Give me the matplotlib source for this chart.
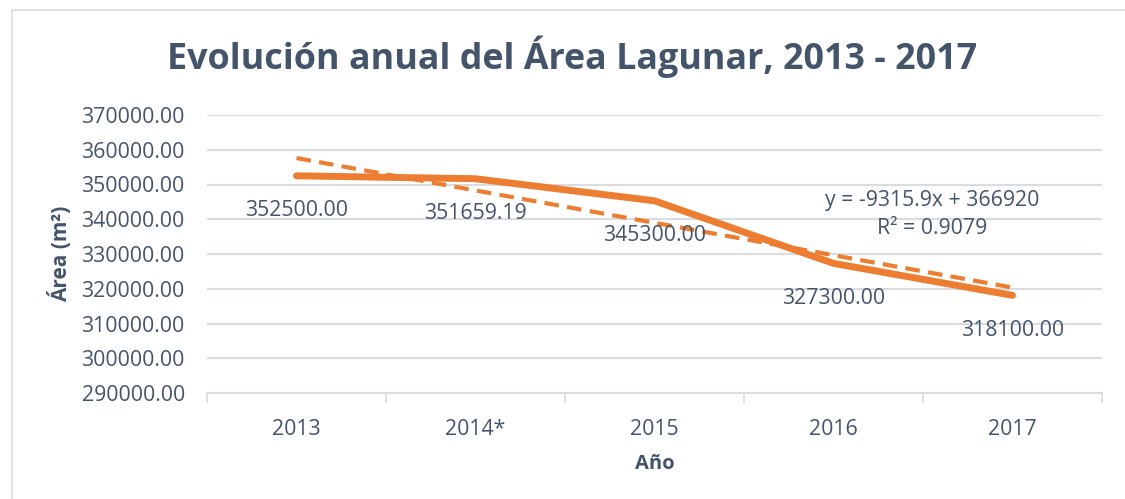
import numpy as np
import matplotlib
matplotlib.use("Agg")
import matplotlib.pyplot as plt
from matplotlib.patches import Rectangle

# data
years = ['2013', '2014*', '2015', '2016', '2017']
area = [352500.00, 351659.19, 345300.00, 327300.00, 318100.00]
slope = -9315.9
intercept = 366920
r2 = 0.9079

orange = '#ED7D31'
txt = '#44546A'
grid_c = '#D9DCE1'

plt.rcParams['font.family'] = ['Open Sans', 'DejaVu Sans']

W, H = 1125, 499
fig = plt.figure(figsize=(W / 100, H / 100), dpi=100)
fig.patch.set_facecolor('white')

# chart area border
fig.patches.append(Rectangle((12 / W, -0.1), 1.2, 1 - 10 / H + 0.1, transform=fig.transFigure,
                             fill=False, ec=grid_c, lw=1.2))

left, right, top, bottom = 207, 1102, 115, 393
ax = fig.add_axes([left / W, 1 - bottom / H, (right - left) / W, (bottom - top) / H])

x = np.arange(1, len(years) + 1)
ax.plot(x, area, color=orange, lw=5, solid_capstyle='round', zorder=3)
trend = slope * x + intercept
ax.plot(x, trend, color=orange, lw=3, ls=(0, (3.5, 2)), zorder=3)

fs = 15.3
for xi, v in zip(x, area):
    ax.annotate(f'{v:.2f}', (xi, v), xytext=(0, -25), textcoords='offset points',
                ha='center', va='center', fontsize=fs, color=txt, zorder=4)

ax.text(4.55, 341300, f'y = {slope}x + {intercept}\nR² = {r2}', ha='center', va='center',
        fontsize=fs, color=txt, linespacing=1.45)

ax.set_xlim(0.5, len(years) + 0.5)
ax.set_ylim(290000, 370000)
ax.set_yticks(np.arange(290000, 370001, 10000))
ax.yaxis.set_major_formatter(matplotlib.ticker.FormatStrFormatter('%.2f'))
ax.set_xticks(x)
ax.set_xticklabels(years)
ax.set_xticks(np.arange(0.5, len(years) + 1, 1), minor=True)

ax.grid(axis='y', color=grid_c, lw=1.5)
ax.set_axisbelow(True)
for s in ['top', 'right', 'left']:
    ax.spines[s].set_visible(False)
ax.spines['bottom'].set_color(grid_c)
ax.spines['bottom'].set_linewidth(1.5)

ax.tick_params(axis='y', length=0, pad=16, labelsize=fs, labelcolor=txt)
ax.tick_params(axis='x', which='major', length=0, pad=19, labelsize=fs, labelcolor=txt)
ax.tick_params(axis='x', which='minor', length=7, width=1.2, color=grid_c)

ax.set_ylabel('Área (m²)', fontsize=15, fontweight='bold', color=txt, labelpad=7)
ax.set_xlabel('Año', fontsize=14.5, fontweight='bold', color=txt, labelpad=10)

fig.text(572 / W, 1 - 57 / H, 'Evolución anual del Área Lagunar, 2013 - 2017', ha='center', va='center',
         fontsize=25.8, fontweight='bold', color=txt)

fig.savefig('out.png', dpi=100)
